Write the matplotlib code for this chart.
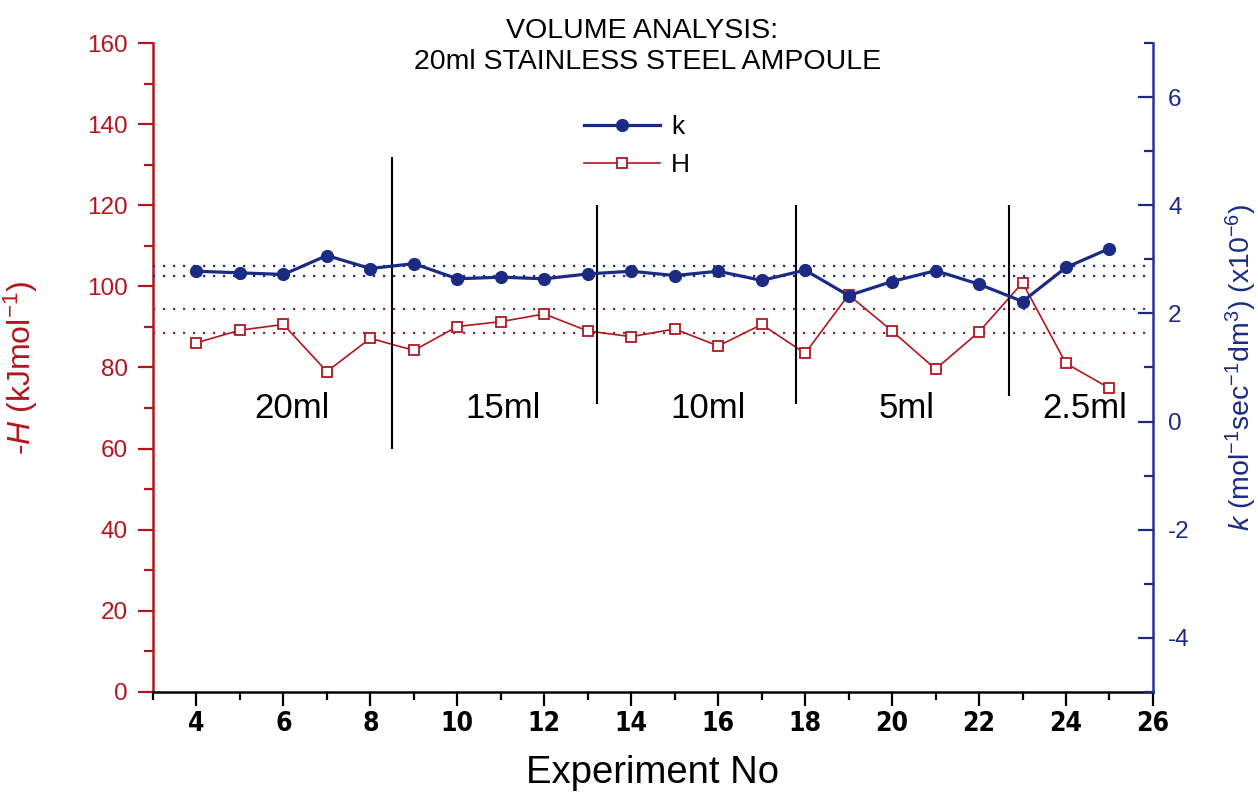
import matplotlib
matplotlib.use("Agg")
import matplotlib.pyplot as plt
from matplotlib.ticker import MultipleLocator
from matplotlib.lines import Line2D

plt.rcParams['font.family'] = ['Liberation Sans', 'DejaVu Sans']
plt.rcParams['mathtext.fontset'] = 'custom'
plt.rcParams['mathtext.rm'] = 'Liberation Sans'
plt.rcParams['mathtext.it'] = 'Liberation Sans:italic'
plt.rcParams['axes.unicode_minus'] = False

# Data
experiment = list(range(4, 26))
H = [86.1, 89.2, 90.6, 79.0, 87.2, 84.2, 90.1, 91.3, 93.2, 89.0, 87.6,
     89.5, 85.3, 90.6, 83.5, 97.9, 89.0, 79.6, 88.8, 100.9, 81.0, 74.9]
k = [2.78, 2.75, 2.72, 3.07, 2.83, 2.92, 2.64, 2.67, 2.64, 2.73, 2.78,
     2.70, 2.78, 2.61, 2.80, 2.33, 2.59, 2.79, 2.54, 2.22, 2.85, 3.20]

# Dotted reference bands
k_band = [2.88, 2.69]
H_band = [94.4, 88.4]

# Volume separators (x, lower, upper on H axis) and labels
sep_x = [8.5, 13.22, 17.8, 22.68]
sep_lo = [60, 71, 71, 73]
sep_hi = [132, 120, 120, 120]
vol_labels = ['20ml', '15ml', '10ml', '5ml', '2.5ml']
vol_x = [6.2, 11.06, 15.77, 20.33, 24.43]
vol_y = 70

RED = '#b3161f'
BLUE = '#1b2a85'

fig = plt.figure(figsize=(12.58, 7.92), dpi=100)
ax = fig.add_axes([0.1216, 0.1263, 0.7949, 0.8194])
ax2 = ax.twinx()

# H series on left axis
for y in H_band:
    ax.axhline(y, color='#8c2a3a', lw=1.6, ls=(0, (1, 3.5)))
ax.plot(experiment, H, color=RED, lw=1.2, marker='s', ms=7.5,
        mfc='white', mec=RED, mew=1.3)
ax.vlines(sep_x, sep_lo, sep_hi, color='black', lw=1.5)
for lab, x in zip(vol_labels, vol_x):
    ax.text(x, vol_y, lab, fontsize=25, ha='center', va='center')

# k series on right axis
for y in k_band:
    ax2.axhline(y, color=BLUE, lw=1.6, ls=(0, (1, 3.5)))
ax2.plot(experiment, k, color=BLUE, lw=2.3, marker='o', ms=8.5)

ax.set_xlim(3, 26)
ax.set_ylim(0, 160)
ax2.set_ylim(-5, 7)

ax.xaxis.set_major_locator(MultipleLocator(2))
ax.xaxis.set_minor_locator(MultipleLocator(1))
ax.yaxis.set_major_locator(MultipleLocator(20))
ax.yaxis.set_minor_locator(MultipleLocator(10))
ax2.yaxis.set_major_locator(MultipleLocator(2))
ax2.yaxis.set_minor_locator(MultipleLocator(1))

for s in ['top', 'right']:
    ax.spines[s].set_visible(False)
for s in ['top', 'left', 'bottom']:
    ax2.spines[s].set_visible(False)
ax.spines['left'].set_color(RED)
ax.spines['left'].set_linewidth(1.8)
ax.spines['bottom'].set_linewidth(1.8)
ax2.spines['right'].set_color('#2433a0')
ax2.spines['right'].set_linewidth(1.8)

ax.tick_params(axis='y', which='major', direction='out', length=11, width=1.6,
               colors=RED, labelsize=17.5, pad=7)
ax.tick_params(axis='y', which='minor', direction='out', length=6.5, width=1.6,
               color=RED)
ax.tick_params(axis='x', which='major', direction='out', length=10, width=1.6,
               labelsize=19, pad=4)
ax.tick_params(axis='x', which='minor', direction='out', length=6, width=1.6)
for t in ax.get_xticklabels():
    t.set_fontweight('bold')
    t.set_family(['DejaVu Sans'])
    t.set_fontstretch('condensed')

ax2.tick_params(axis='y', which='major', direction='in', length=11, width=1.6,
                colors=BLUE, labelsize=17.5, pad=11)
ax2.tick_params(axis='y', which='minor', direction='in', length=6.5, width=1.6,
                color=BLUE)

ax.set_xlabel('Experiment No', fontsize=27.5)
ax.xaxis.set_label_coords(0.5, -0.097)
ax.set_ylabel(r'-$\mathit{H}$ (kJmol$^{\mathrm{-1}}$)', fontsize=23, color=RED)
ax.yaxis.set_label_coords(-0.113, 0.5)
ax2.set_ylabel(r'$\mathit{k}$ (mol$^{\mathrm{-1}}$sec$^{\mathrm{-1}}$dm$^{\mathrm{3}}$) (x10$^{\mathrm{-6}}$)',
               fontsize=20.5, color=BLUE)
ax2.yaxis.set_label_coords(1.071, 0.5)

fig.text(642 / 1258, 1 - 31 / 792, 'VOLUME ANALYSIS:', fontsize=20.5,
         ha='center', va='center')
fig.text(648 / 1258, 1 - 62 / 792, '20ml STAINLESS STEEL AMPOULE', fontsize=20.5,
         ha='center', va='center')

handles = [Line2D([], [], color=BLUE, lw=2.3, marker='o', ms=8.5),
           Line2D([], [], color=RED, lw=1.2, marker='s', ms=7.5, mfc='white',
                  mec=RED, mew=1.3)]
fig.legend(handles, ['k', 'H'], loc='center', bbox_to_anchor=(637 / 1258, 1 - 146 / 792),
           frameon=False, fontsize=19, handlelength=2.9, handletextpad=0.4,
           labelspacing=0.55)

fig.savefig('out.png', dpi=100)
